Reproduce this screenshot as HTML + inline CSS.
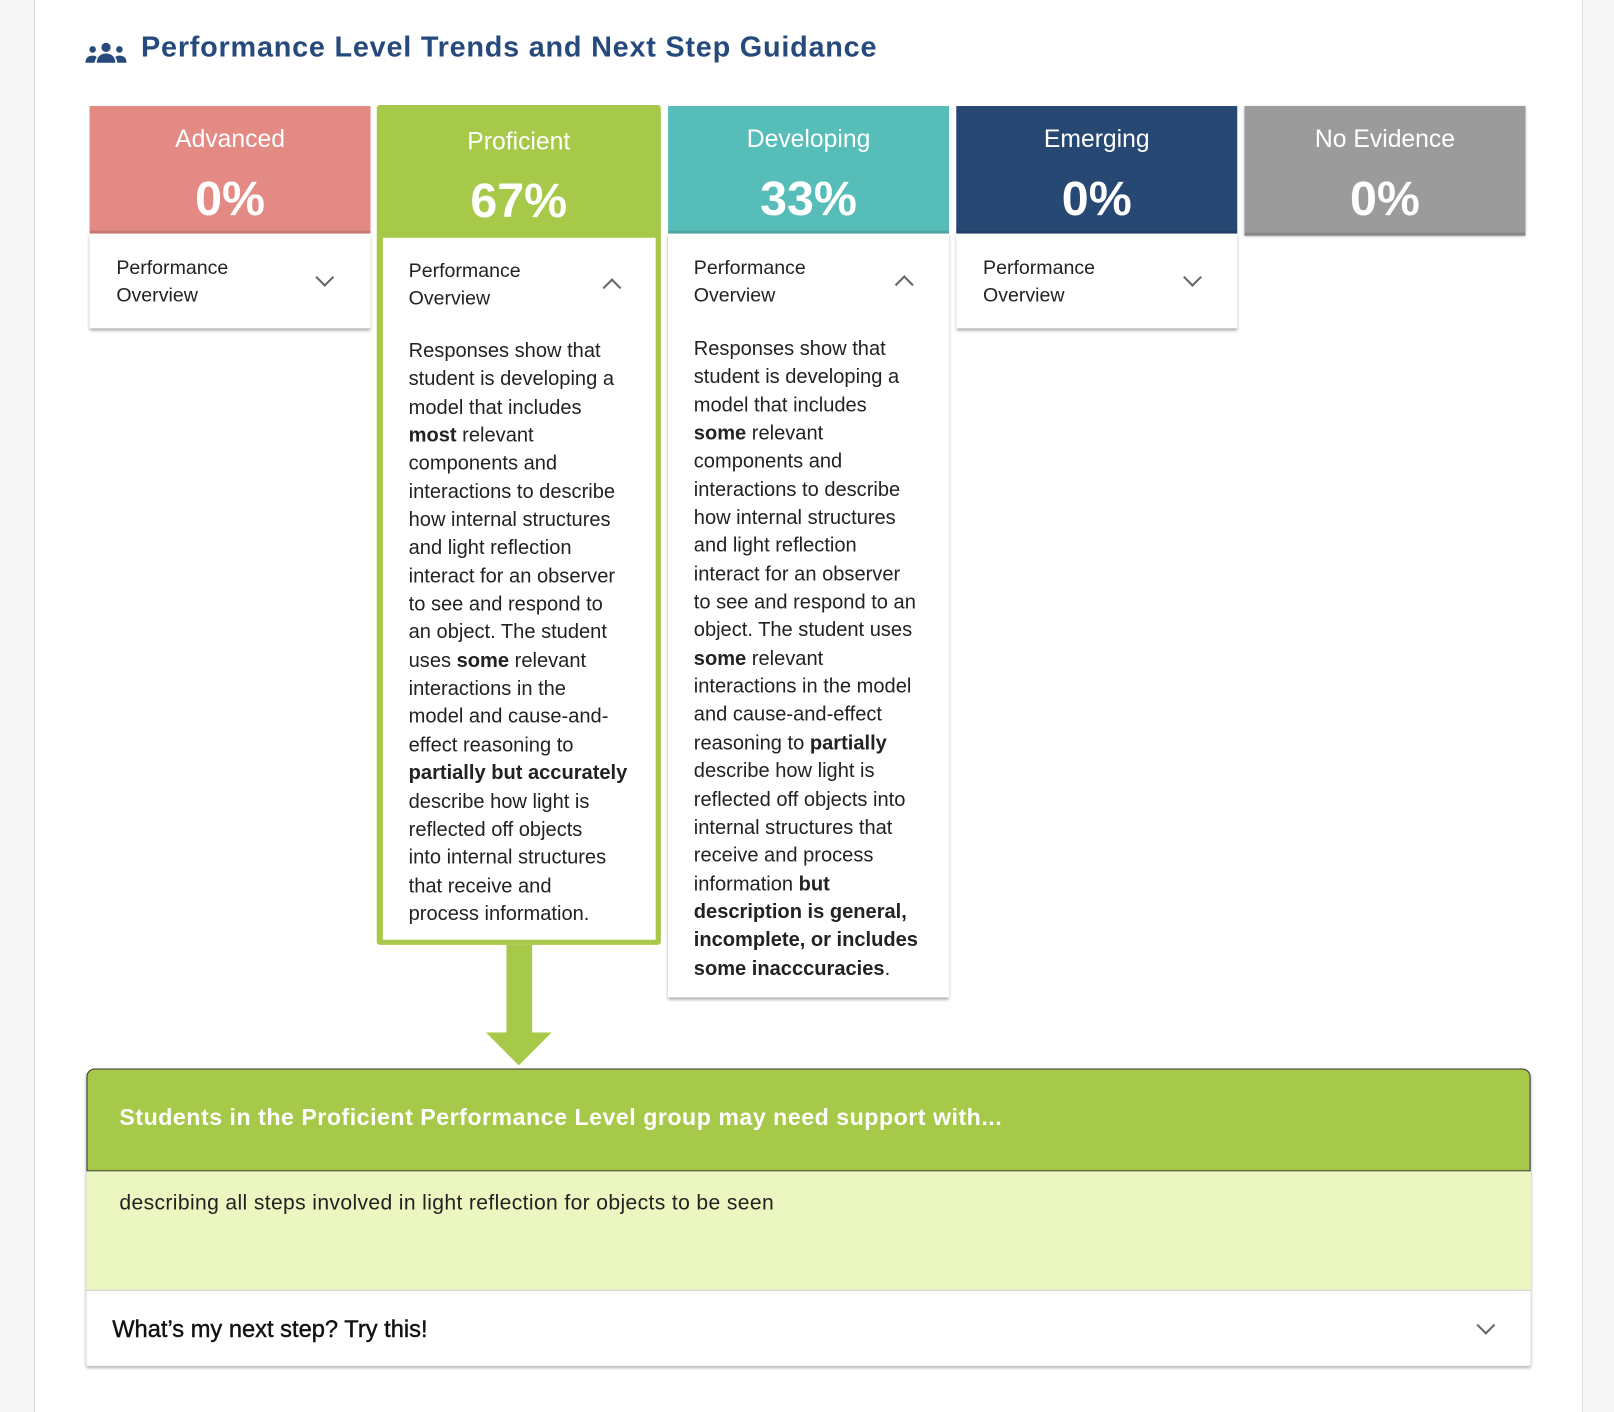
<!DOCTYPE html>
<html><head><meta charset="utf-8">
<style>
html,body{margin:0;padding:0;width:1614px;height:1412px;overflow:hidden;background:#f7f7f7;font-family:"Liberation Sans",sans-serif;}
#w{position:absolute;left:0;top:0;width:1568px;height:1372px;transform:scale(1.02934);transform-origin:0 0;}
#panel{position:absolute;left:33px;top:0;width:1503px;height:1372px;background:#fff;border-left:1px solid #ddd;border-right:1px solid #ddd;}
.a{position:absolute;}
.title{left:137px;top:30px;font-size:28px;letter-spacing:0.75px;font-weight:bold;color:#274a7d;white-space:nowrap;}
.card{position:absolute;width:273px;}
.hd{position:absolute;left:0;top:0;width:100%;height:124px;color:#fff;text-align:center;border-bottom:3px solid rgba(0,0,0,.12);box-sizing:border-box;}
.hd .n{position:absolute;left:0;right:0;top:19px;font-size:24px;}
.hd .p{position:absolute;left:0;right:0;top:62px;font-size:47px;font-weight:bold;}
.bd{position:absolute;left:0;background:#fff;box-shadow:0 2px 3px rgba(0,0,0,.35);}
.po{position:absolute;font-size:19px;line-height:27px;color:#222;}
.chev{position:absolute;width:11px;height:11px;border-right:2.5px solid #666;border-bottom:2.5px solid #666;}
.txt{position:absolute;font-size:19.5px;line-height:27.35px;color:#222;}
b{font-weight:bold;}
</style></head><body><div id="w">
<div id="panel"></div>
<svg class="a" style="left:83px;top:40px" width="40" height="22" viewBox="0 0 40 22">
<g fill="#274a7d"><circle cx="20" cy="6" r="4.5"/><path d="M11 21c0-6 4-9 9-9s9 3 9 9z"/><circle cx="7" cy="8" r="3.2"/><path d="M0 21c0-5 3-7 7-7 2 0 3 .5 4 1.5-1 1.5-2 3.5-2 5.5z"/><circle cx="33" cy="8" r="3.2"/><path d="M40 21c0-5-3-7-7-7-2 0-3 .5-4 1.5 1 1.5 2 3.5 2 5.5z"/></g></svg>
<div class="a title">Performance Level Trends and Next Step Guidance</div>

<div class="card" style="left:87px;top:103px;height:216px;">
<div class="hd" style="background:#e38a84"><div class="n">Advanced</div><div class="p">0%</div></div>
<div class="bd" style="top:124px;width:273px;height:92px"><div class="po" style="left:26px;top:20px">Performance<br>Overview</div><div class="chev" style="left:222px;top:36px;transform:rotate(45deg)"></div></div>
</div>

<div class="a" style="left:366px;top:102px;width:276px;height:816px;background:#a6c94a;border-radius:3px;"></div>
<div class="a" style="left:366px;top:102px;width:276px;height:128px;color:#fff;text-align:center">
<div class="a" style="left:0;right:0;top:22px;font-size:24px">Proficient</div>
<div class="a" style="left:0;right:0;top:65px;font-size:47px;font-weight:bold">67%</div></div>
<div class="a" style="left:372px;top:231px;width:265px;height:682px;background:#fff;">
<div class="po" style="left:25px;top:19px">Performance<br>Overview</div><div class="chev" style="left:216px;top:42px;transform:rotate(225deg)"></div>
<div class="txt" style="left:25px;top:97px;width:225px">Responses show that<br>student is developing a<br>model that includes<br><b>most</b> relevant<br>components and<br>interactions to describe<br>how internal structures<br>and light reflection<br>interact for an observer<br>to see and respond to<br>an object. The student<br>uses <b>some</b> relevant<br>interactions in the<br>model and cause-and-<br>effect reasoning to<br><b>partially but accurately</b><br>describe how light is<br>reflected off objects<br>into internal structures<br>that receive and<br>process information.</div>
</div>

<div class="card" style="left:649px;top:103px;height:866px;">
<div class="hd" style="background:#57bdb8"><div class="n">Developing</div><div class="p">33%</div></div>
<div class="bd" style="top:124px;width:273px;height:742px">
<div class="po" style="left:25px;top:20px">Performance<br>Overview</div><div class="chev" style="left:223px;top:43px;transform:rotate(225deg)"></div>
<div class="txt" style="left:25px;top:99px;width:240px">Responses show that<br>student is developing a<br>model that includes<br><b>some</b> relevant<br>components and<br>interactions to describe<br>how internal structures<br>and light reflection<br>interact for an observer<br>to see and respond to an<br>object. The student uses<br><b>some</b> relevant<br>interactions in the model<br>and cause-and-effect<br>reasoning to <b>partially</b><br>describe how light is<br>reflected off objects into<br>internal structures that<br>receive and process<br>information <b>but</b><br><b>description is general,</b><br><b>incomplete, or includes</b><br><b>some inacccuracies</b>.</div>
</div></div>

<div class="card" style="left:929px;top:103px;height:216px;">
<div class="hd" style="background:#284874"><div class="n">Emerging</div><div class="p">0%</div></div>
<div class="bd" style="top:124px;width:273px;height:92px"><div class="po" style="left:26px;top:20px">Performance<br>Overview</div><div class="chev" style="left:223px;top:36px;transform:rotate(45deg)"></div></div>
</div>

<div class="card" style="left:1209px;top:103px;height:126px;box-shadow:0 1px 3px rgba(0,0,0,.3)">
<div class="hd" style="background:#9b9b9b;height:126px"><div class="n">No Evidence</div><div class="p">0%</div></div>
</div>

<div class="a" style="left:492px;top:918px;width:25px;height:87px;background:#a6c94a"></div>
<svg class="a" style="left:472px;top:1003px" width="64" height="32"><polygon points="0,0 64,0 32,32" fill="#a6c94a"/></svg>

<div class="a" style="left:84px;top:1038px;width:1403px;height:289px;box-shadow:0 2px 3px rgba(0,0,0,.3);background:#fff;border-radius:8px 8px 2px 2px;">
<div class="a" style="left:0;top:0;width:1401px;height:98px;background:#a6c94a;border:1px solid #333;border-radius:8px 8px 0 0;"></div>
<div class="a" style="left:32px;top:35px;font-size:22.5px;letter-spacing:0.5px;font-weight:bold;color:#fff;white-space:nowrap">Students in the Proficient Performance Level group may need support with...</div>
<div class="a" style="left:0;top:100px;width:1403px;height:115px;background:#ebf6c0;border-bottom:1px solid #ccc"></div>
<div class="a" style="left:32px;top:119px;font-size:20.5px;letter-spacing:0.35px;color:#222;white-space:nowrap">describing all steps involved in light reflection for objects to be seen</div>
<div class="a" style="left:25px;top:240px;font-size:23px;color:#111;white-space:nowrap;-webkit-text-stroke:0.4px #111">What’s my next step? Try this!</div>
<div class="chev" style="left:1353px;top:243px;transform:rotate(45deg)"></div>
</div>
</div></body></html>
